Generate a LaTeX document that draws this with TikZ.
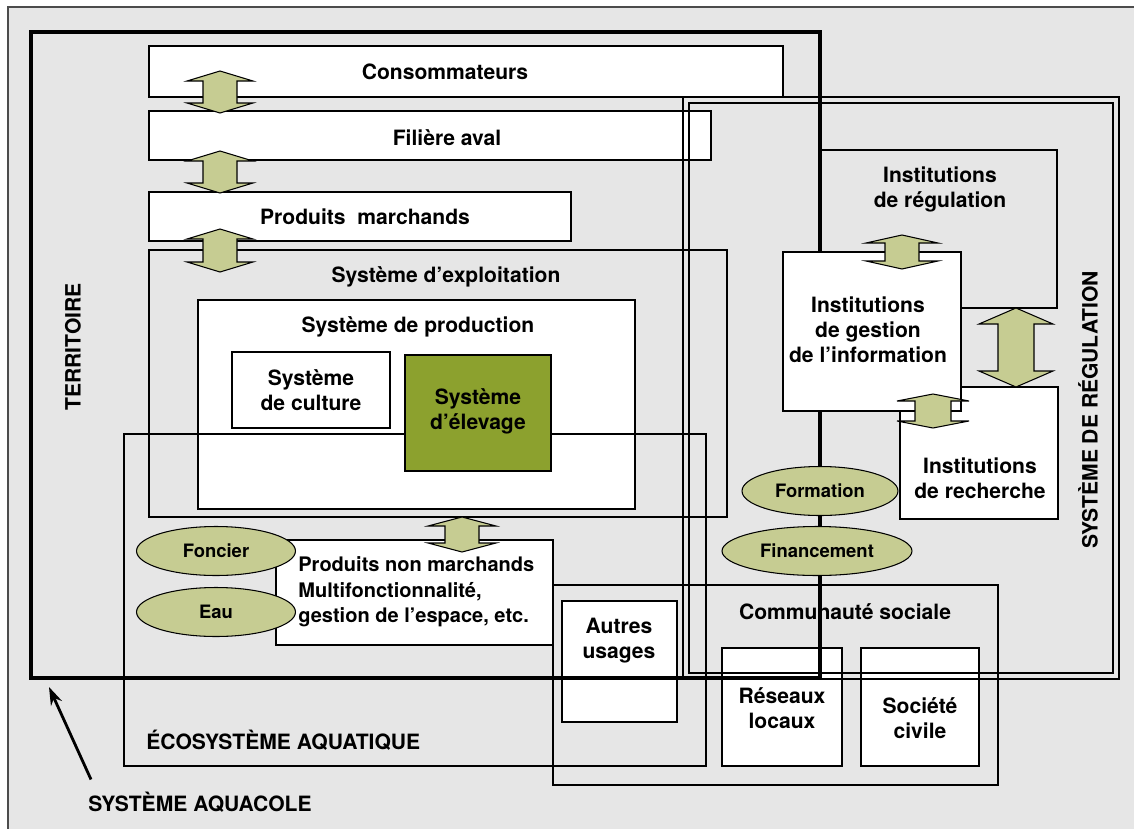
\documentclass[tikz,border=0pt]{standalone}
\usepackage{fontspec}
\setmainfont{TeX Gyre Heros}
\usetikzlibrary{positioning,fit,calc,shapes.geometric,arrows.meta}
\definecolor{fond}{RGB}{230,230,230}
\definecolor{olive}{RGB}{140,161,46}
\definecolor{olivepale}{RGB}{198,204,146}

\tikzset{
  box/.style={draw, line width=0.6pt, fill=white, inner sep=0pt},
  cadre/.style={draw, line width=1.2pt, inner sep=0pt},
  titre/.style={font=\bfseries\fontsize{12}{14.2}\selectfont, align=center, inner sep=0pt},
  oval/.style={draw, line width=0.6pt, ellipse, fill=olivepale, inner sep=0pt,
    minimum height=0.98cm, font=\bfseries\fontsize{10.5}{12}\selectfont},
  bloc/.style={draw, line width=0.6pt, fill=olivepale, line join=miter},
}

\begin{document}
\begin{tikzpicture}[x=0.02cm, y=-0.02cm]
  \useasboundingbox (0,0) rectangle (1134,829);
  \fill[fond] (8,7) rectangle (1150,840);
  \draw[black!70, line width=0.6pt] (8,840) -- (8,7) -- (1150,7);

  % filiere marchande
  \node[box, fit={(149,46) (783,97)}] (conso) {};
  \node[box, fit={(149,111) (711,160)}] (aval) {};
  \node[box, fit={(149,192) (571,241)}] (marchands) {};
  \node[titre] at (445,72) {Consommateurs};
  \node[titre] at (447,138) {Filière aval};
  \node[titre] at (365,217) {Produits\ \ marchands};

  % exploitation et production
  \node[cadre, fit={(149,250) (727,517)}] (exploit) {};
  \node[titre] at (446,277) {Système d’exploitation};
  \node[box, fit={(198,300) (635,509)}] (prod) {};
  \node[titre] at (418,327) {Système de production};
  \node[box, fit={(232,352) (390,428)}] (culture) {};
  \node[titre] at (culture.center) {Système\\de culture};
  \node[cadre, fit={(124,434) (706,766)}] (eco) {};
  \node[box, fill=olive, fit={(405,355) (551,471)}] (elevage) {};
  \node[titre] at (478,411) {Système\\d’élevage};
  \node[titre, anchor=west] at (146,740) {ÉCOSYSTÈME AQUATIQUE};

  % produits non marchands
  \node[box, fit={(276,540) (553,645)}] (nonmarch) {};
  \node[titre, anchor=west, align=left, font=\bfseries\fontsize{11.4}{14.4}\selectfont]
    at (298,592) {Produits non marchands\\Multifonctionnalité,\\gestion de l’espace, etc.};

  % communaute sociale
  \node[cadre, fit={(553,585) (998,785)}] (commu) {};
  \node[titre] at (845,612) {Communauté sociale};
  \node[box, fit={(562,601) (677,722)}] (autres) {};
  \node[titre] at (619,641) {Autres\\usages};
  \node[box, fit={(722,648) (842,766)}] (reseaux) {};
  \node[titre] at (782,708) {Réseaux\\locaux};
  \node[box, fit={(861,648) (979,766)}] (civile) {};
  \node[titre] at (920,718) {Société\\civile};

  % systeme de regulation
  \draw[line width=0.6pt] (683,97) rectangle (1119,679);
  \draw[line width=0.6pt] (689,103) rectangle (1113,673);
  \node[titre, rotate=90] at (1088,410) {SYSTÈME DE RÉGULATION};
  \node[draw, line width=0.6pt, inner sep=0pt, fit={(820,150) (1057,308)}] (instreg) {};
  \node[titre] at (940,189) {Institutions\\de régulation};

  % systeme aquacole (territoire)
  \node[draw, line width=2.4pt, inner sep=0pt, fit={(31,32) (820,678)}] (aquacole) {};
  \node[titre, rotate=90] at (73,347) {TERRITOIRE};
  \node[titre, anchor=west] (lblaq) at (88,802) {SYSTÈME AQUACOLE};
  \coordinate (pointe) at (49,687);
  \draw[line width=1.6pt, -{Stealth[length=0.36cm, width=0.24cm]}]
    ($(lblaq.north west)+(3,-12)$) -- (pointe);

  \node[box, fit={(900,387) (1058,519)}] (recherche) {};
  \node[titre] at (980,478) {Institutions\\de recherche};
  \node[box, fit={(783,252) (961,411)}] (gestion) {};
  \node[titre] at (868,330) {Institutions\\de gestion\\de l’information};

  % moyens
  \node[oval, minimum width=3.12cm] (formation) at (820,491) {Formation};
  \node[oval, minimum width=3.8cm] (financement) at (817,551) {Financement};
  \node[oval, minimum width=3.18cm] (foncier) at (216,551) {Foncier};
  \node[oval, minimum width=3.18cm] (eau) at (216,612) {Eau};

  % echanges
  \foreach \x/\ya/\yb/\s/\h/\l in {220/71/113/17/33/10, 220/151/193/17/33/10,
      220/229/272/17/33/10, 462/517/552/17/34/9, 902/235/269/17/36/8,
      1016/308/387/18/37/16, 933/394/428/18/36/7}
    \draw[bloc] (\x-\s,\ya+\l) -- (\x-\h,\ya+\l) -- (\x,\ya) -- (\x+\h,\ya+\l)
      -- (\x+\s,\ya+\l) -- (\x+\s,\yb-\l) -- (\x+\h,\yb-\l) -- (\x,\yb)
      -- (\x-\h,\yb-\l) -- (\x-\s,\yb-\l) -- cycle;
\end{tikzpicture}
\end{document}
